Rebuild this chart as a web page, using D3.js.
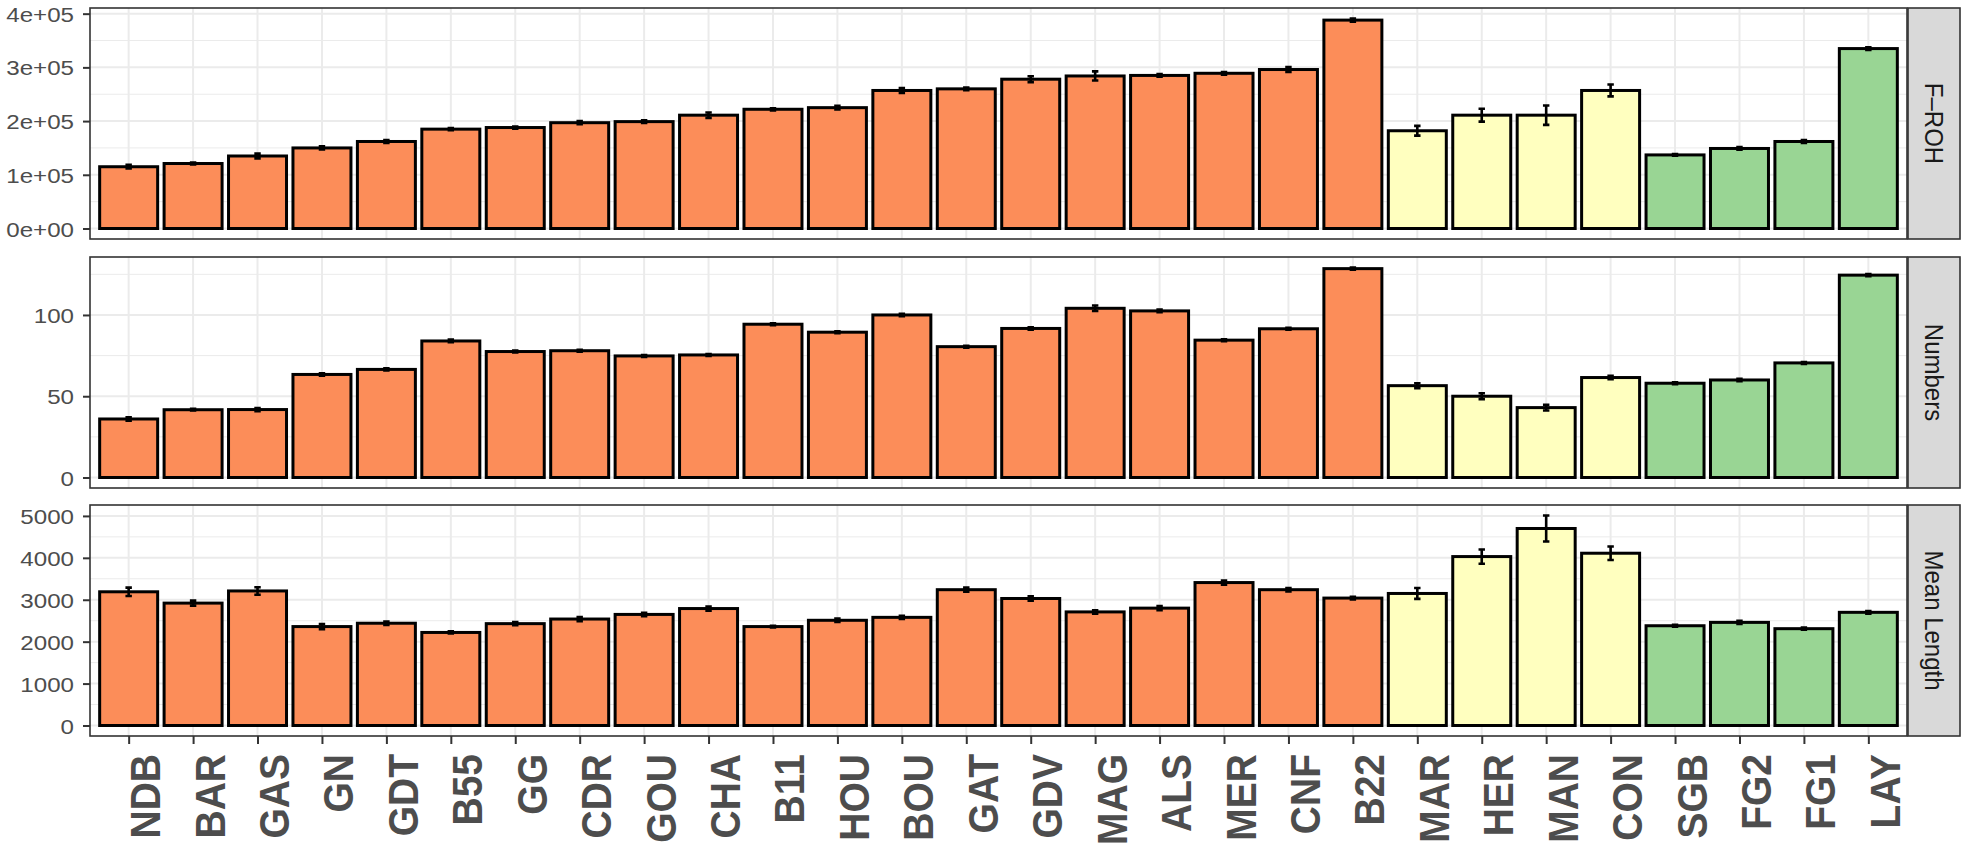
<!DOCTYPE html>
<html>
<head>
<meta charset="utf-8">
<script src="https://cdn.jsdelivr.net/npm/d3@7"></script>
<style>
  body { margin: 0; background: #fff; }
  svg text { font-family: "Liberation Sans", Arial, Helvetica, sans-serif; }
</style>
</head>
<body>
<svg id="chart" width="1961" height="849"></svg>
<script>
// population codes, in plotting order
const cats = ["NDB", "BAR", "GAS", "GN", "GDT", "B55", "GG", "CDR", "GOU", "CHA",
  "B11", "HOU", "BOU", "GAT", "GDV", "MAG", "ALS", "MER", "CNF", "B22",
  "MAR", "HER", "MAN", "CON", "SGB", "FG2", "FG1", "LAY"];

// group of each population (decides the fill)
const groups = ["a", "a", "a", "a", "a", "a", "a", "a", "a", "a",
  "a", "a", "a", "a", "a", "a", "a", "a", "a", "a",
  "b", "b", "b", "b", "c", "c", "c", "c"];
const groupColors = {a: "#FC8D59", b: "#FFFFBF", c: "#99D594"};

// F-ROH (mean and standard error)
const froh = [115000, 121000, 135000, 150000, 162000, 185000, 188000, 197000, 199000, 211000,
  222000, 225000, 257000, 260000, 278000, 284000, 285000, 289000, 296000, 388000,
  182000, 211000, 211000, 257000, 137000, 149000, 162000, 335000];
const frohSe = [3400, 1800, 4500, 3000, 2500, 2000, 2000, 3000, 2500, 5000,
  2000, 3400, 4500, 2500, 5500, 8500, 2500, 2500, 4500, 3000,
  9000, 12000, 18000, 11000, 1500, 2500, 2500, 2500];

// number of ROH
const numbers = [36, 41.7, 41.8, 63.4, 66.5, 84, 77.5, 78, 74.8, 75.4,
  94.3, 89.4, 100, 80.5, 91.7, 104.1, 102.5, 84.5, 91.5, 128.5,
  56.5, 50, 43, 61.5, 58, 60, 70.5, 124.5];
const numbersSe = [1, 0.5, 1, 0.7, 0.7, 0.8, 0.6, 0.6, 0.6, 0.6,
  0.6, 0.6, 0.7, 0.6, 0.7, 1.7, 0.8, 0.6, 0.6, 0.7,
  1.5, 1.8, 1.8, 1, 0.6, 0.7, 0.6, 0.7];

// mean ROH length
const meanLength = [3190, 2920, 3210, 2360, 2440, 2220, 2430, 2540, 2650, 2790,
  2360, 2510, 2580, 3240, 3030, 2710, 2800, 3410, 3240, 3040,
  3150, 4030, 4700, 4110, 2380, 2460, 2310, 2700];
const meanLengthSe = [100, 60, 90, 60, 40, 25, 40, 50, 40, 50,
  20, 40, 40, 50, 50, 40, 50, 50, 40, 30,
  130, 170, 310, 160, 25, 35, 25, 30];

// facet labels and axis breaks
const panelNames = ["F\u2013ROH", "Numbers", "Mean Length"];
const frohTicks = [0, 100000, 200000, 300000, 400000];
const numbersTicks = [0, 50, 100];
const meanLengthTicks = [0, 1000, 2000, 3000, 4000, 5000];

// 1e+05 style labels like R prints them
function sci(d) {
  if (d === 0) return "0e+00";
  const e = Math.floor(Math.log10(d));
  return Math.round(d / Math.pow(10, e)) + "e+" + String(e).padStart(2, "0");
}

const panels = [
  {name: panelNames[0], values: froh, se: frohSe, ticks: frohTicks, fmt: sci},
  {name: panelNames[1], values: numbers, se: numbersSe, ticks: numbersTicks, fmt: d3.format("d")},
  {name: panelNames[2], values: meanLength, se: meanLengthSe, ticks: meanLengthTicks, fmt: d3.format("d")}
];

const svg = d3.select("#chart");

const left = 90, right = 1907;
const stripW = 52;
const panelTops = [8, 257, 505];
const panelH = 231;

const x = d3.scalePoint().domain(cats).range([left, right]).padding(0.6);
const barW = x.step() * 0.9;
const capW = x.step() * 0.1;

panels.forEach((p, pi) => {
  const top = panelTops[pi];
  const bottom = top + panelH;
  const rows = cats.map((c, i) => ({cat: c, group: groups[i], v: p.values[i], se: p.se[i]}));

  // ggplot style 5% expansion round the data range
  const hi = d3.max(rows, d => d.v + d.se);
  const pad = hi * 0.05;
  const y = d3.scaleLinear().domain([-pad, hi + pad]).range([bottom, top]);

  const g = svg.append("g");

  // minor grid halfway between the breaks
  const step = p.ticks[1] - p.ticks[0];
  const minor = d3.range(step / 2, hi + pad, step);
  g.append("g").selectAll("line").data(minor).join("line")
    .attr("x1", left).attr("x2", right)
    .attr("y1", d => y(d)).attr("y2", d => y(d))
    .attr("stroke", "#EBEBEB").attr("stroke-width", 1);

  g.append("g").selectAll("line").data(p.ticks).join("line")
    .attr("x1", left).attr("x2", right)
    .attr("y1", d => y(d)).attr("y2", d => y(d))
    .attr("stroke", "#EBEBEB").attr("stroke-width", 2);

  g.append("g").selectAll("line").data(cats).join("line")
    .attr("x1", d => x(d)).attr("x2", d => x(d))
    .attr("y1", top).attr("y2", bottom)
    .attr("stroke", "#EBEBEB").attr("stroke-width", 2);

  // bars
  g.append("g").selectAll("rect").data(rows).join("rect")
    .attr("x", d => x(d.cat) - barW / 2)
    .attr("width", barW)
    .attr("y", d => y(d.v))
    .attr("height", d => y(0) - y(d.v))
    .attr("fill", d => groupColors[d.group])
    .attr("stroke", "#000")
    .attr("stroke-width", 3);

  // error bars
  g.append("g").selectAll("path").data(rows).join("path")
    .attr("d", d => {
      const cx = x(d.cat), y1 = y(d.v - d.se), y2 = y(d.v + d.se);
      return `M${cx - capW / 2},${y1}H${cx + capW / 2}M${cx},${y1}V${y2}M${cx - capW / 2},${y2}H${cx + capW / 2}`;
    })
    .attr("fill", "none")
    .attr("stroke", "#000")
    .attr("stroke-width", 2.6);

  // panel border
  g.append("rect")
    .attr("x", left).attr("y", top)
    .attr("width", right - left).attr("height", panelH)
    .attr("fill", "none").attr("stroke", "#333333").attr("stroke-width", 1.6);

  // y axis
  const ax = g.append("g")
    .attr("transform", `translate(${left},0)`)
    .call(d3.axisLeft(y).tickValues(p.ticks).tickSize(7).tickPadding(0).tickFormat(p.fmt));
  ax.select(".domain").remove();
  ax.selectAll(".tick line").attr("stroke", "#333333").attr("stroke-width", 2);
  ax.selectAll(".tick text")
    .attr("x", null).attr("dy", null)
    .attr("transform", "translate(-16,7.5) scale(1.15,1)")
    .attr("fill", "#4D4D4D")
    .style("font-size", "21px");

  // facet strip on the right
  g.append("rect")
    .attr("x", right + 1).attr("y", top)
    .attr("width", stripW).attr("height", panelH)
    .attr("fill", "#D9D9D9").attr("stroke", "#333333").attr("stroke-width", 1.6);
  g.append("text")
    .attr("transform", `translate(${right + 1 + stripW / 2},${top + panelH / 2}) scale(1.1,1) rotate(90)`)
    .attr("text-anchor", "middle")
    .attr("dy", "0.35em")
    .attr("fill", "#1A1A1A")
    .style("font-size", "24px")
    .text(p.name);

  // x axis only under the last panel
  if (pi === panels.length - 1) {
    const xa = g.append("g")
      .attr("transform", `translate(0,${bottom})`)
      .call(d3.axisBottom(x).tickSize(8).tickPadding(0));
    xa.select(".domain").remove();
    xa.selectAll(".tick line").attr("stroke", "#333333").attr("stroke-width", 2);
    xa.selectAll(".tick text")
      .attr("y", null).attr("dy", null)
      .attr("text-anchor", "end")
      .attr("transform", "translate(31,18) scale(1.1,1) rotate(-90)")
      .attr("fill", "#4D4D4D")
      .style("font-size", "39px")
      .style("font-weight", "bold");
  }
});
</script>
</body>
</html>
